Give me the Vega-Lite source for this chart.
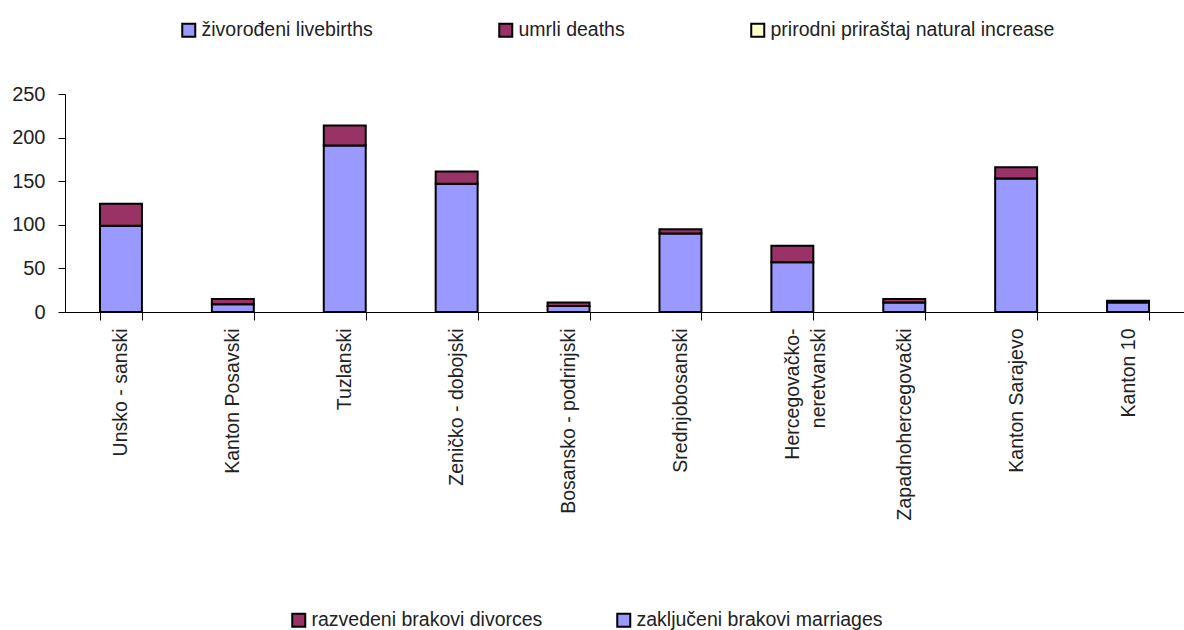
{
  "$schema": "https://vega.github.io/schema/vega-lite/v6.json",
  "width": 1119,
  "height": 218,
  "autosize": "none",
  "padding": {"left": 65, "top": 94, "right": 0, "bottom": 318},
  "background": "white",
  "config": {
    "view": {"stroke": null},
    "font": "Liberation Sans",
    "axis": {"labelColor": "#222222", "domainColor": "black", "tickColor": "black", "domainWidth": 1, "tickWidth": 1, "grid": false},
    "legend": {"labelColor": "#222222"}
  },
  "layer": [
    {
      "data": {
        "values": [
          {"kanton": "Unsko - sanski", "serija": "zaključeni brakovi marriages", "broj": 99},
          {"kanton": "Unsko - sanski", "serija": "razvedeni brakovi divorces", "broj": 25},
          {"kanton": "Kanton Posavski", "serija": "zaključeni brakovi marriages", "broj": 9},
          {"kanton": "Kanton Posavski", "serija": "razvedeni brakovi divorces", "broj": 6},
          {"kanton": "Tuzlanski", "serija": "zaključeni brakovi marriages", "broj": 191},
          {"kanton": "Tuzlanski", "serija": "razvedeni brakovi divorces", "broj": 23},
          {"kanton": "Zeničko - dobojski", "serija": "zaključeni brakovi marriages", "broj": 147},
          {"kanton": "Zeničko - dobojski", "serija": "razvedeni brakovi divorces", "broj": 14},
          {"kanton": "Bosansko - podrinjski", "serija": "zaključeni brakovi marriages", "broj": 7},
          {"kanton": "Bosansko - podrinjski", "serija": "razvedeni brakovi divorces", "broj": 4},
          {"kanton": "Srednjobosanski", "serija": "zaključeni brakovi marriages", "broj": 90},
          {"kanton": "Srednjobosanski", "serija": "razvedeni brakovi divorces", "broj": 5},
          {"kanton": "Hercegovačko-neretvanski", "serija": "zaključeni brakovi marriages", "broj": 57},
          {"kanton": "Hercegovačko-neretvanski", "serija": "razvedeni brakovi divorces", "broj": 19},
          {"kanton": "Zapadnohercegovački", "serija": "zaključeni brakovi marriages", "broj": 11},
          {"kanton": "Zapadnohercegovački", "serija": "razvedeni brakovi divorces", "broj": 4},
          {"kanton": "Kanton Sarajevo", "serija": "zaključeni brakovi marriages", "broj": 153},
          {"kanton": "Kanton Sarajevo", "serija": "razvedeni brakovi divorces", "broj": 13},
          {"kanton": "Kanton 10", "serija": "zaključeni brakovi marriages", "broj": 11},
          {"kanton": "Kanton 10", "serija": "razvedeni brakovi divorces", "broj": 2}
        ]
      },
      "mark": {"type": "bar", "stroke": "black", "strokeWidth": 2},
      "encoding": {
        "x": {
          "field": "kanton",
          "type": "nominal",
          "sort": null,
          "scale": {"paddingInner": 0.625, "paddingOuter": 0.3125},
          "axis": {
            "title": null,
            "labelAngle": -90,
            "labelFontSize": 19.5,
            "labelPadding": 8,
            "tickSize": 8,
            "tickBand": "extent",
            "labelLimit": 0,
            "labelLineHeight": 26,
            "labelExpr": "datum.label == 'Hercegovačko-neretvanski' ? ['Hercegovačko-', 'neretvanski\u00a0\u00a0\u00a0'] : datum.label"
          }
        },
        "y": {
          "field": "broj",
          "type": "quantitative",
          "stack": "zero",
          "scale": {"domain": [0, 250], "nice": false},
          "axis": {
            "title": null,
            "values": [0, 50, 100, 150, 200, 250],
            "labelFontSize": 20,
            "tickSize": 7,
            "labelPadding": 13
          }
        },
        "color": {
          "field": "serija",
          "type": "nominal",
          "scale": {"domain": ["razvedeni brakovi divorces", "zaključeni brakovi marriages"], "range": ["#993366", "#9999FF"]},
          "legend": {
            "title": null,
            "orient": "none",
            "legendX": 224,
            "legendY": 516,
            "direction": "horizontal",
            "symbolType": "square",
            "symbolSize": 169,
            "symbolStrokeColor": "black",
            "symbolStrokeWidth": 2,
            "labelFontSize": 19.5,
            "labelOffset": 3,
            "labelLimit": 0,
            "columnPadding": 70,
            "padding": 0
          }
        },
        "order": {"field": "serija", "sort": "descending"}
      }
    },
    {
      "data": {
        "values": [
          {"pokazatelj": "živorođeni livebirths", "vrijednost": null},
          {"pokazatelj": "umrli deaths", "vrijednost": null},
          {"pokazatelj": "prirodni priraštaj natural increase", "vrijednost": null}
        ]
      },
      "mark": {"type": "bar", "stroke": "black", "strokeWidth": 2},
      "encoding": {
        "y": {"field": "vrijednost", "type": "quantitative", "stack": null},
        "fill": {
          "field": "pokazatelj",
          "type": "nominal",
          "scale": {"domain": ["živorođeni livebirths", "umrli deaths", "prirodni priraštaj natural increase"], "range": ["#9999FF", "#993366", "#FFFFCC"]},
          "legend": {
            "title": null,
            "orient": "none",
            "legendX": 114,
            "legendY": -74,
            "direction": "horizontal",
            "symbolType": "square",
            "symbolSize": 169,
            "symbolStrokeColor": "black",
            "symbolStrokeWidth": 2,
            "labelFontSize": 19.5,
            "labelOffset": 3,
            "labelLimit": 0,
            "columnPadding": 122,
            "padding": 0
          }
        }
      }
    }
  ]
}
